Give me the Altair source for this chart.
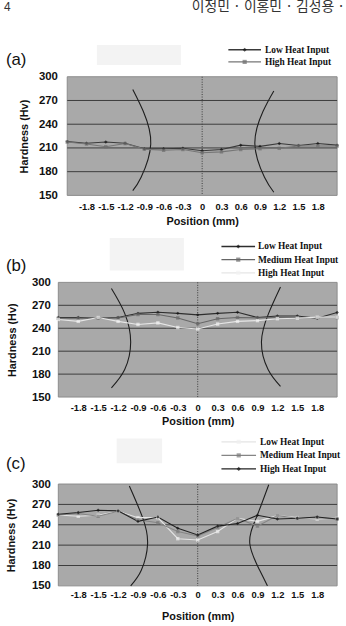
import altair as alt
import pandas as pd

# ---------------- data ----------------
positions = [-2.1, -1.8, -1.5, -1.2, -0.9, -0.6, -0.3, 0.0, 0.3, 0.6, 0.9, 1.2, 1.5, 1.8, 2.1]
x_ticks = [-1.8, -1.5, -1.2, -0.9, -0.6, -0.3, 0.0, 0.3, 0.6, 0.9, 1.2, 1.5, 1.8]
y_ticks = [150, 180, 210, 240, 270, 300]
grid_values = [180, 210, 240, 270]

a_names = ["Low Heat Input", "High Heat Input"]
a_low = [218, 216, 217.5, 216, 209, 209, 209.5, 206.5, 208, 213.5, 212, 215.5, 213, 215.5, 213.5]
a_high = [217.5, 215, 211.5, 215.5, 208.5, 207, 208, 204, 205, 208, 209, 209.5, 212.5, 212.5, 212.5]

b_names = ["Low Heat Input", "Medium Heat Input", "High Heat Input"]
b_low = [254, 254, 253, 254, 259.5, 261, 259.5, 257.5, 259.5, 261, 254, 256, 256, 253, 260.5]
b_med = [253, 253, 253, 253.5, 258, 258, 253.5, 246, 252.5, 254, 253.5, 254, 253.5, 254, 254]
b_high = [251.5, 249, 254, 249, 245, 247, 241, 239, 245.5, 249, 250, 252.5, 253, 254.5, 254.5]

c_names = ["Low Heat Input", "Medium Heat Input", "High Heat Input"]
c_low = [254.5, 252.5, 254, 260, 250.5, 250.5, 219.5, 217.5, 230, 249.5, 245, 253.5, 250.5, 248.5, 249.5]
c_med = [254.5, 256.5, 252.5, 260, 247.5, 243, 230, 223.5, 236, 249.5, 238, 253.5, 249.5, 250.5, 248.5]
c_high = [255.5, 258, 261.5, 260.5, 245, 251.5, 235, 225, 238, 242, 254, 248.5, 249.5, 251.5, 248.5]

# fusion-boundary curves (x in mm, y in Hv)
a_left_x = [-1.08, -0.915, -0.80, -0.95, -1.08]
a_left_y = [284, 256, 215, 173, 156]
a_right_x = [1.115, 0.946, 0.82, 0.97, 1.115]
a_right_y = [282, 256, 215, 173, 154]
b_left_x = [-1.30, -1.10, -1.01, -1.10, -1.30]
b_left_y = [292, 259.5, 222, 186, 162]
b_right_x = [1.247, 1.068, 0.96, 1.06, 1.247]
b_right_y = [294, 259.5, 222, 186, 164]
c_left_x = [-1.03, -0.83, -0.755, -0.85, -1.01]
c_left_y = [297, 250.5, 212, 173, 150]
c_right_x = [1.07, 0.883, 0.785, 0.934, 1.05]
c_right_y = [299, 250.5, 212, 173, 150]

header_left = "4"
header_right = "이정민 · 이홍민 · 김성용 ·"

SANS = "Liberation Sans"
SERIF = "Liberation Serif"
BG = "#a9a9a9"
GROUP_W = 282


def make_panel(label, names, series, line_colors, marker_colors, shapes, curves,
               off, height, leg, lab_pad, title_pad, ylab_pad, ytitle_pad,
               blank_rect, header=False):
    xscale = alt.Scale(domain=[-2.1, 2.1], range=[off, GROUP_W], nice=False, zero=False)
    yscale = alt.Scale(domain=[150, 300], nice=False, zero=False)
    xaxis = alt.Axis(values=x_ticks, title="Position (mm)", grid=False, domain=False,
                     ticks=False, labelFont=SANS, labelFontWeight="bold", labelFontSize=9.5,
                     labelColor="#111", labelPadding=lab_pad, titleFont=SANS,
                     titleFontWeight="bold", titleFontSize=11, titleColor="#111",
                     titlePadding=title_pad,
                     labelExpr="datum.value == 0 ? '0' : (datum.value < 0 ? '-' : '') + format(abs(datum.value), '.1f')")
    yaxis = alt.Axis(values=y_ticks, title="Hardness (Hv)", grid=False, domain=False,
                     ticks=False, labelFont=SANS, labelFontWeight="bold", labelFontSize=11.5,
                     labelColor="#111", labelPadding=ylab_pad, titleFont=SANS,
                     titleFontWeight="bold", titleFontSize=11, titleColor="#111",
                     titlePadding=ytitle_pad, offset=-off)

    def X(f):
        return alt.X(f, type="quantitative", scale=xscale, axis=xaxis)

    def Y(f):
        return alt.Y(f, type="quantitative", scale=yscale, axis=yaxis)

    rows = []
    for name, vals in zip(names, series):
        for p, v in zip(positions, vals):
            rows.append({"position": p, "hardness": v, "series": name})
    df = pd.DataFrame(rows)

    crow = []
    for cid, (cx, cy) in enumerate(curves):
        for i, (xx, yy) in enumerate(zip(cx, cy)):
            crow.append({"cx": xx, "cy": yy, "curve": cid, "idx": i})
    cdf = pd.DataFrame(crow)

    color_scale = alt.Scale(domain=names, range=line_colors)
    fill_scale = alt.Scale(domain=names, range=marker_colors)
    shape_scale = alt.Scale(domain=names, range=shapes)

    one = pd.DataFrame({"k": [0]})
    bg = alt.Chart(one).mark_rect(fill=BG, stroke="#8c8c8c", strokeWidth=1).encode(
        x=alt.value(off), x2=alt.value(GROUP_W), y=alt.value(0), y2=alt.value(height))
    grid = alt.Chart(pd.DataFrame({"g": grid_values})).mark_rule(
        color="#3c3c3c", strokeWidth=1).encode(
        y=Y("g"), x=alt.value(off), x2=alt.value(GROUP_W))
    zero = alt.Chart(pd.DataFrame({"z": [0.0]})).mark_rule(
        color="#3a3a3a", strokeWidth=1, strokeDash=[1, 1.5]).encode(x=X("z"))
    curve = alt.Chart(cdf).mark_line(interpolate="natural", color="#1e1e1e",
                                     strokeWidth=1.1).encode(
        x=X("cx"), y=Y("cy"), detail="curve:N", order="idx:Q")
    lines = alt.Chart(df).mark_line(strokeWidth=1.1).encode(
        x=X("position"), y=Y("hardness"),
        color=alt.Color("series:N", scale=color_scale, legend=None))
    pts = alt.Chart(df).mark_point(filled=True, size=12, strokeWidth=0).encode(
        x=X("position"), y=Y("hardness"),
        fill=alt.Fill("series:N", scale=fill_scale, legend=None),
        shape=alt.Shape("series:N", scale=shape_scale, legend=None))

    data_layer = alt.layer(bg, grid, zero, curve, lines, pts)

    # manual legend above the plot
    ldf = pd.DataFrame({"series": names, "row": list(range(len(names)))})
    lyscale = alt.Scale(type="point", domain=list(range(len(names))), range=leg["rows"],
                        padding=0)
    LY = alt.Y("row:O", scale=lyscale, axis=None)
    leg_line = alt.Chart(ldf).mark_rule(strokeWidth=1.3).encode(
        x=alt.value(off + leg["x1"]), x2=alt.value(off + leg["x2"]), y=LY,
        color=alt.Color("series:N", scale=color_scale, legend=None))
    leg_pt = alt.Chart(ldf).mark_point(filled=True, size=18, strokeWidth=0).encode(
        x=alt.value(off + (leg["x1"] + leg["x2"]) / 2), y=LY,
        fill=alt.Fill("series:N", scale=fill_scale, legend=None),
        shape=alt.Shape("series:N", scale=shape_scale, legend=None))
    leg_txt = alt.Chart(ldf).mark_text(align="left", baseline="middle", font=SERIF,
                                       fontWeight="bold", fontSize=9.5,
                                       color="#111").encode(
        x=alt.value(off + leg["tx"]), y=LY, text="series:N")

    blank = alt.Chart(one).mark_rect(color="#f3f3f3").encode(
        x=alt.value(off + blank_rect[0]), x2=alt.value(off + blank_rect[1]),
        y=alt.value(blank_rect[2]), y2=alt.value(blank_rect[3]))
    lab = alt.Chart(one).mark_text(align="left", baseline="middle", font=SANS,
                                   fontSize=17, color="#111").encode(
        x=alt.value(off + leg["lx"]), y=alt.value(leg["ly"]), text=alt.value(label))
    extra = [blank, leg_line, leg_pt, leg_txt, lab]
    if header:
        h1 = alt.Chart(one).mark_text(align="left", baseline="alphabetic", font=SANS,
                                      fontSize=12, color="#333").encode(
            x=alt.value(off - 64), y=alt.value(-67), text=alt.value(header_left))
        h2 = alt.Chart(one).mark_text(align="left", baseline="alphabetic",
                                      font="Noto Sans CJK KR", fontSize=14,
                                      color="#333").encode(
            x=alt.value(off + 126), y=alt.value(-67), text=alt.value(header_right))
        extra += [h1, h2]
    legend_layer = alt.layer(*extra)

    return alt.layer(data_layer, legend_layer).resolve_scale(y="independent").properties(
        width=GROUP_W, height=height,
        view=alt.ViewBackground(fill="transparent", stroke="transparent"))


chart_a = make_panel(
    "(a)", a_names, [a_low, a_high], ["#3a3a3a", "#767676"], ["#111111", "#6e6e6e"],
    ["diamond", "square"],
    [(a_left_x, a_left_y), (a_right_x, a_right_y)],
    9, 120,
    {"rows": [-27.3, -15], "x1": 163, "x2": 196, "tx": 200, "lx": -62, "ly": -17},
    6, 5, 10, 9, [30, 115, -32, -12], header=True)

chart_b = make_panel(
    "(b)", b_names, [b_low, b_med, b_high], ["#2e2e2e", "#666666", "#e6e6e6"],
    ["#111111", "#6a6a6a", "#f2f2f2"], ["diamond", "square", "square"],
    [(b_left_x, b_left_y), (b_right_x, b_right_y)],
    0, 116,
    {"rows": [-36.3, -9.7], "x1": 165, "x2": 199, "tx": 202, "lx": -53, "ly": -17},
    6, 3, 8, 14, [52, 127, -45, -12])

chart_c = make_panel(
    "(c)", c_names, [c_low, c_med, c_high], ["#e4e4e4", "#858585", "#222222"],
    ["#f0f0f0", "#7a7a7a", "#111111"], ["square", "square", "diamond"],
    [(c_left_x, c_left_y), (c_right_x, c_right_y)],
    0, 103,
    {"rows": [-42.7, -15.3], "x1": 165, "x2": 200, "tx": 204, "lx": -53, "ly": -20},
    4, 12, 8, 15, [59, 105, -46, -21])

chart = alt.vconcat(chart_a, chart_b, chart_c, spacing=88, bounds="flush").resolve_scale(
    x="independent", y="independent", color="independent", fill="independent",
    shape="independent",
).properties(
    padding={"left": 3, "top": -5, "right": 0, "bottom": 4},
    background="white",
)

chart.save("out.html", embed_options={"renderer": "svg", "actions": False})
